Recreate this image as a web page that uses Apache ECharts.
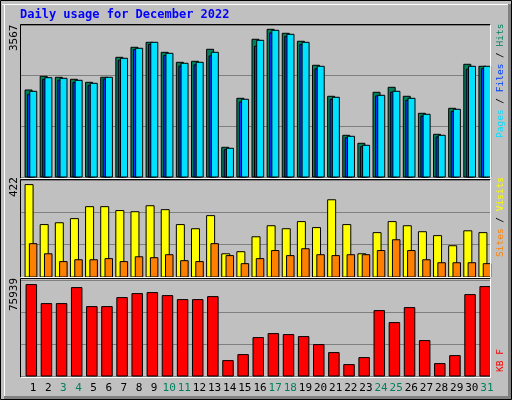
<!DOCTYPE html>
<html><head><meta charset="utf-8">
<script src="https://cdn.jsdelivr.net/npm/echarts@6/dist/echarts.min.js"></script>
<style>html,body{margin:0;padding:0;background:#c0c0c0}#c{width:512px;height:400px}</style>
</head><body><div id="c"></div>
<script>
const days = ['1','2','3','4','5','6','7','8','9','10','11','12','13','14','15','16','17','18','19','20','21','22','23','24','25','26','27','28','29','30','31'];
const weekend = ['3','4','10','11','17','18','24','25','31'];
const hits  = [2042,2363,2340,2293,2222,2340,2809,3044,3161,2926,2692,2715,2997,697,1847,3232,3466,3373,3185,2622,1894,979,791,1988,2105,1894,1495,1002,1612,2645,2598];
const files = [1940,2290,2270,2220,2150,2300,2740,2990,3110,2850,2600,2630,2840,640,1760,3070,3380,3300,3110,2540,1820,920,710,1900,1990,1800,1430,940,1540,2530,2540];
const pages = [2011,2330,2316,2269,2199,2340,2786,3021,3161,2903,2669,2692,2927,674,1824,3208,3443,3349,3161,2598,1871,955,744,1917,2011,1847,1472,979,1589,2598,2598];
const visits = [402,228,236,254,306,306,289,284,310,293,228,210,267,101,110,175,223,210,241,215,336,228,101,193,241,223,197,180,136,201,193];
const sites  = [145,101,67,75,75,80,67,88,84,97,71,67,145,93,58,80,115,93,123,97,93,97,97,115,162,115,75,62,62,62,58];
const kbytes = [72300,57270,57270,69920,54900,54900,62010,65180,65970,63600,60430,60430,62810,12180,16930,30370,33540,32750,31170,24840,18510,9020,14550,51730,42240,54100,28000,9810,16140,64390,70720];
const maxHits = 3567, maxVisits = 422, maxKB = 75939;

const L = 21, W = 469;
const grids = [
  {left:L, width:W, top:25, height:152},
  {left:L, width:W, top:180, height:97},
  {left:L, width:W, top:280, height:96}
];
function xAxis(i){
  return {type:'category', gridIndex:i, data:days, boundaryGap:true,
    axisLine:{show:false}, axisTick:{show:false},
    axisLabel:{show:i===2, interval:0, margin:7, padding:[0,0,0,9], fontFamily:'DejaVu Sans Mono', fontSize:11,
      color:(v)=>weekend.includes(v)?'#00805c':'#000'}};
}
function yAxis(i,max){
  return {type:'value', gridIndex:i, min:0, max:max, interval:max/3,
    axisLine:{show:false}, axisTick:{show:false}, axisLabel:{show:false},
    splitLine:{show:true, lineStyle:{color:'#808080', width:1}}};
}
function barSeries(gi, data, color, dx, w, z){
  return {type:'custom', xAxisIndex:gi, yAxisIndex:gi, z:z, data:data.map((v,i)=>[i,v]),
    renderItem:(params, api)=>{
      const top = api.coord([api.value(0), api.value(1)]);
      const base = api.coord([api.value(0), 0]);
      return {type:'rect', shape:{x:top[0]+dx, y:top[1], width:w, height:base[1]-top[1]},
        style:{fill:color, stroke:'#000', lineWidth:1}};
    }};
}
function panel(x,y,w,h){
  return [
    {type:'line', shape:{x1:x,y1:y,x2:x+w,y2:y}, style:{stroke:'#000',lineWidth:1}, z:50},
    {type:'line', shape:{x1:x,y1:y,x2:x,y2:y+h}, style:{stroke:'#000',lineWidth:1}, z:50},
    {type:'line', shape:{x1:x+w,y1:y,x2:x+w,y2:y+h}, style:{stroke:'#fff',lineWidth:1}, z:50},
    {type:'line', shape:{x1:x,y1:y+h,x2:x+w,y2:y+h}, style:{stroke:'#fff',lineWidth:1}, z:50}
  ];
}
const mono = 'DejaVu Sans Mono';
const f = '9.5px '+mono;
const option = {
  animation:false, backgroundColor:'#c0c0c0',
  grid:grids,
  xAxis:[xAxis(0),xAxis(1),xAxis(2)],
  yAxis:[yAxis(0,maxHits),yAxis(1,maxVisits),yAxis(2,maxKB)],
  series:[
    barSeries(0,hits,'#00805c',-3.5,7,2),
    barSeries(0,files,'#0040ff',-1,7,3),
    barSeries(0,pages,'#00e0ff',1.2,7,4),
    barSeries(1,visits,'#ffff00',-3.5,8,2),
    barSeries(1,sites,'#ff8000',0.8,7.5,3),
    barSeries(2,kbytes,'#ff0000',-2.5,10.5,2)
  ],
  graphic:[
    {type:'rect', shape:{x:0.5,y:0.5,width:511,height:399}, style:{fill:null, stroke:'#000', lineWidth:1}, z:60},
    {type:'line', shape:{x1:2,y1:4.5,x2:508,y2:4.5}, style:{stroke:'#fff',lineWidth:1}, z:60},
    {type:'line', shape:{x1:4.5,y1:4,x2:4.5,y2:396}, style:{stroke:'#fff',lineWidth:1}, z:60},
    {type:'rect', shape:{x:508,y:4,width:3,height:395}, style:{fill:'#808080'}, z:60},
    {type:'rect', shape:{x:4,y:396,width:507,height:3}, style:{fill:'#808080'}, z:60},
    ...panel(20.5,24.5,470,154),
    ...panel(20.5,179.5,470,98),
    ...panel(20.5,278.5,470,99),
    {type:'text', x:20, y:9, style:{text:'Daily usage for December 2022', fill:'#0000ff', font:'bold 12px '+mono}, z:70},
    {type:'text', x:9, y:51, rotation:Math.PI/2, style:{text:'3567', fill:'#000', font:'11px '+mono}, z:70},
    {type:'text', x:9, y:197, rotation:Math.PI/2, style:{text:'422', fill:'#000', font:'11px '+mono}, z:70},
    {type:'text', x:9, y:311, rotation:Math.PI/2, style:{text:'75939', fill:'#000', font:'11px '+mono}, z:70},
    {type:'text', x:496, y:138, rotation:Math.PI/2, style:{text:'{p|Pages}{s| / }{f|Files}{s| / }{h|Hits}', font:f,
      rich:{p:{fill:'#00e0ff',font:f},f:{fill:'#0040ff',font:f},h:{fill:'#00805c',font:f},s:{fill:'#000',font:f}}}, z:70},
    {type:'text', x:496, y:257, rotation:Math.PI/2, style:{text:'{a|Sites}{s| / }{b|Visits}', font:f,
      rich:{a:{fill:'#ff8000',font:f},b:{fill:'#ffff00',font:f},s:{fill:'#000',font:f}}}, z:70},
    {type:'text', x:496, y:372, rotation:Math.PI/2, style:{text:'KB F', fill:'#ff0000', font:f}, z:70}
  ]
};
echarts.init(document.getElementById('c')).setOption(option);
</script></body></html>
